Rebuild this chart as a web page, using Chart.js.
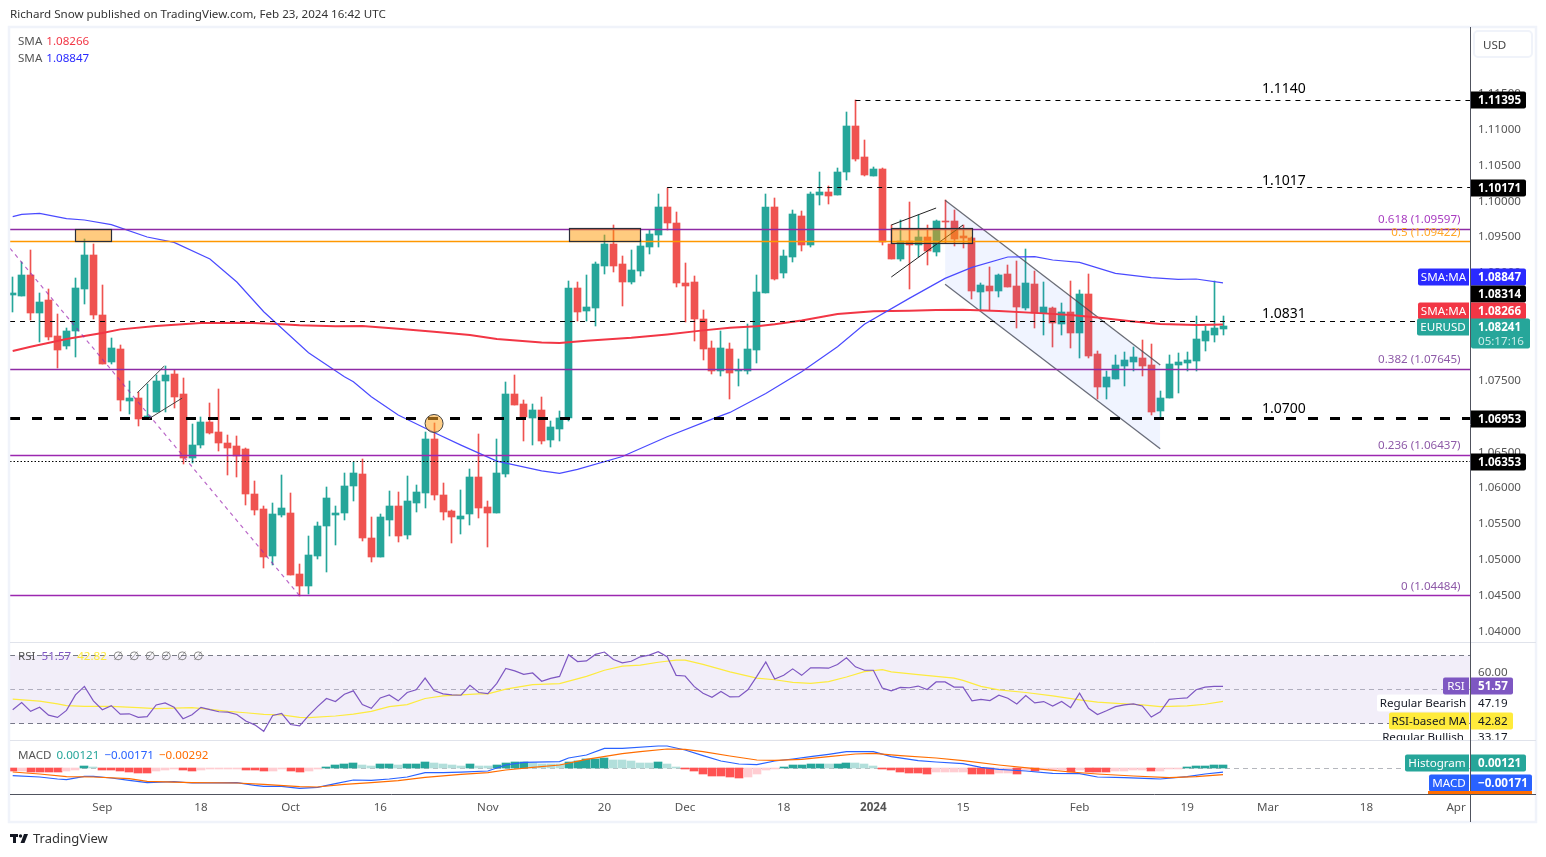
<!doctype html>
<html><head><meta charset="utf-8">
<style>html,body{margin:0;padding:0;background:#fff;overflow:hidden}canvas{display:block}</style>
<script src="https://cdn.jsdelivr.net/npm/chart.js@4"></script>
</head><body><canvas id="c" width="1546" height="857"></canvas>
<script>
const opens=[1.08678,1.08664,1.08957,1.08427,1.08608,1.08106,1.07966,1.08176,1.08761,1.09236,
1.08399,1.07743,1.07924,1.07199,1.07241,1.06948,1.07046,1.07478,1.07576,1.07297,
1.06404,1.06585,1.06906,1.06767,1.06613,1.06571,1.06529,1.05902,1.05692,1.05037,
1.05609,1.05637,1.04786,1.04618,1.05037,1.05455,1.05613,1.05637,1.06013,1.06181,
1.05288,1.05023,1.05539,1.05734,1.0533,1.05776,1.05916,1.06669,1.05888,1.05665,
1.05553,1.05623,1.06139,1.0572,1.05637,1.06181,1.07297,1.07157,1.06962,1.07073,
1.06655,1.06808,1.06962,1.08775,1.08455,1.08496,1.09082,1.09389,1.0911,1.08859,
1.09013,1.09347,1.09515,1.09905,1.09682,1.08845,1.08859,1.08343,1.07938,1.07618,
1.07924,1.07618,1.07618,1.0791,1.08706,1.09905,1.08985,1.09208,1.0978,1.09375,
1.10073,1.10115,1.10073,1.10394,1.11035,1.10603,1.10338,1.10435,1.09389,1.0918,
1.09431,1.09375,1.09487,1.09278,1.0971,1.0971,1.09501,1.09473,1.0872,1.08803,
1.08734,1.08971,1.08803,1.08496,1.08831,1.08427,1.08496,1.08273,1.08441,1.08148,
1.08692,1.07855,1.07394,1.07506,1.07687,1.07743,1.07799,1.07701,1.0706,1.07241,
1.07701,1.07729,1.07757,1.08036,1.0812,1.08203];
const highs=[1.08929,1.09138,1.09305,1.08706,1.08761,1.08413,1.08217,1.08915,1.09459,1.09389,
1.08817,1.08078,1.0798,1.07478,1.07325,1.07436,1.07562,1.07687,1.07632,1.0752,
1.06878,1.06976,1.07171,1.07366,1.06725,1.06711,1.06543,1.06083,1.05734,1.05776,
1.06167,1.05916,1.04925,1.05316,1.05511,1.05999,1.05734,1.06195,1.06348,1.0639,
1.05581,1.05623,1.05944,1.0593,1.06153,1.06027,1.06767,1.06887,1.06055,1.05678,
1.05957,1.0625,1.06739,1.05804,1.06669,1.07464,1.07562,1.07213,1.07157,1.07255,
1.0692,1.0706,1.08873,1.08859,1.08957,1.09138,1.09515,1.09654,1.09222,1.09305,
1.09445,1.09584,1.10087,1.10166,1.09836,1.09124,1.08943,1.08468,1.08036,1.08176,
1.08008,1.07785,1.08273,1.08957,1.10087,1.10031,1.09305,1.09863,1.0985,1.10115,
1.10394,1.10198,1.10449,1.11231,1.11393,1.1084,1.10463,1.10449,1.09654,1.09724,
1.09975,1.09794,1.09654,1.09724,1.09998,1.09863,1.09654,1.09482,1.08845,1.09068,
1.08971,1.09096,1.09152,1.09319,1.09013,1.08859,1.0851,1.08566,1.08873,1.08747,
1.08971,1.07897,1.07618,1.07841,1.07883,1.07952,1.0805,1.07994,1.07339,1.07841,
1.07869,1.07883,1.08385,1.08245,1.08873,1.08385];
const lows=[1.08441,1.08664,1.08329,1.08022,1.0805,1.07659,1.07924,1.07813,1.08552,1.08343,
1.07715,1.07715,1.0706,1.07018,1.0685,1.06948,1.07046,1.07046,1.07101,1.0632,
1.06334,1.06543,1.06739,1.06502,1.06167,1.06139,1.05748,1.05609,1.04869,1.04911,
1.05581,1.04772,1.04479,1.04507,1.04995,1.04814,1.0519,1.05539,1.05804,1.05246,
1.04953,1.05023,1.05316,1.05232,1.05274,1.05651,1.05706,1.05818,1.05539,1.05218,
1.05344,1.05469,1.05567,1.05162,1.05637,1.06139,1.07143,1.06641,1.06585,1.06599,
1.06557,1.06641,1.0692,1.08315,1.08315,1.08245,1.08971,1.08999,1.08524,1.08831,
1.08943,1.0925,1.09347,1.09584,1.08789,1.08301,1.08036,1.07771,1.07576,1.07548,
1.07227,1.07408,1.07576,1.07729,1.08706,1.08887,1.08915,1.09138,1.09292,1.09347,
1.09933,1.09947,1.10073,1.10282,1.10547,1.10338,1.10338,1.09375,1.0918,1.09152,
1.08761,1.09212,1.09096,1.09222,1.09398,1.09361,1.09333,1.08622,1.08468,1.08468,
1.0865,1.08789,1.08217,1.08468,1.08217,1.0812,1.07952,1.0812,1.07938,1.07799,
1.07799,1.07227,1.07227,1.07506,1.07408,1.07618,1.07548,1.07004,1.06962,1.07241,
1.07311,1.07618,1.07618,1.07897,1.08022,1.0812];
const closes=[1.08706,1.08957,1.08427,1.0858,1.08092,1.0791,1.08176,1.08775,1.09236,1.08399,
1.07715,1.07938,1.07213,1.07241,1.06948,1.0699,1.07478,1.07562,1.07255,1.06404,
1.06585,1.06906,1.06753,1.06613,1.06543,1.06432,1.05902,1.05678,1.05023,1.05623,
1.05706,1.04772,1.04618,1.05051,1.05455,1.05846,1.05637,1.06013,1.06195,1.05288,
1.05023,1.05581,1.05734,1.05316,1.05804,1.0593,1.06669,1.05888,1.05651,1.05581,
1.05595,1.06139,1.05706,1.05637,1.06195,1.07297,1.07143,1.06976,1.07073,1.06641,
1.06836,1.06962,1.08775,1.08441,1.0851,1.0911,1.09389,1.09082,1.08859,1.09026,
1.09361,1.09529,1.09905,1.09682,1.08845,1.08803,1.08343,1.07924,1.07618,1.07938,
1.0759,1.07632,1.07924,1.0872,1.09905,1.08901,1.09222,1.09808,1.09375,1.10087,
1.10115,1.10059,1.10394,1.11035,1.10575,1.10352,1.10435,1.09417,1.0918,1.09431,
1.09375,1.09487,1.09292,1.0971,1.09696,1.09459,1.09473,1.08734,1.08817,1.08734,
1.08957,1.08789,1.0851,1.08845,1.08427,1.0851,1.08287,1.08441,1.08148,1.08692,
1.07827,1.07394,1.07534,1.07701,1.07771,1.07813,1.07687,1.07046,1.07241,1.07715,
1.07743,1.07771,1.08064,1.08176,1.08217,1.08241];

const sma50Days=[0,1,3,6,8,11,15,18,22,25,28,33,37,38,40,43,47,50,54,59,61,63,68,73,78,80,84,88,92,95,100,104,107,111,114,116,119,123,127,130,132,135];
const sma50Vals=[1.0977,1.09803,1.09817,1.09743,1.09724,1.09659,1.09487,1.09412,1.0918,1.08859,1.08445,1.07873,1.07538,1.07469,1.07259,1.07004,1.06762,1.06585,1.06362,1.06227,1.0619,1.06246,1.06427,1.06702,1.06948,1.07041,1.07306,1.07608,1.07957,1.08269,1.08631,1.0891,1.09064,1.09208,1.09212,1.09166,1.09133,1.0898,1.0892,1.08896,1.08901,1.08847];
const sma200Days=[0,2,6,10,12,16,21,26,29,32,36,39,43,47,51,54,59,61,64,69,73,77,80,83,85,88,92,96,100,103,106,110,115,118,121,125,128,132,135];
const sma200Vals=[1.07897,1.07957,1.08064,1.08148,1.08199,1.08245,1.08287,1.08292,1.08278,1.08255,1.08241,1.08245,1.08208,1.08166,1.0812,1.08064,1.08017,1.08008,1.08041,1.08083,1.08129,1.08185,1.08222,1.08241,1.08269,1.08324,1.08413,1.0845,1.08459,1.08468,1.08473,1.08455,1.08422,1.08399,1.08366,1.0831,1.08273,1.08259,1.08266];

const rsiVals=[37.9,42.1,36.9,39.3,34.7,33.4,37.5,46.6,51.6,43.1,37.9,40.3,35.3,35.5,33.4,33.8,40.7,41.9,39.3,32.6,
34.9,39.3,37.9,36.7,36.5,35.1,31.2,29.0,25.2,34.5,35.7,29.2,28.4,34.4,39.7,44.5,42.7,47.0,49.0,40.9,
38.7,44.8,46.6,43.1,48.0,49.6,56.5,49.2,47.2,46.6,46.4,52.2,48.0,47.4,53.4,62.1,60.7,58.7,59.5,54.6,
56.3,57.5,70.2,66.2,66.6,70.4,71.8,67.4,65.4,66.4,69.0,70.0,72.0,69.0,58.1,57.7,51.6,47.6,45.2,48.6,
45.4,45.6,49.6,57.5,66.0,55.9,58.1,61.9,58.1,62.5,62.5,62.3,64.5,68.4,63.1,61.1,61.1,50.6,49.0,51.0,
50.8,51.8,49.8,54.2,54.2,51.2,51.2,43.1,44.0,43.3,46.4,44.6,41.3,46.2,41.9,42.7,40.1,42.7,39.1,47.6,
38.7,35.1,37.3,39.7,40.7,41.3,40.1,33.6,36.7,44.0,44.5,44.8,49.6,51.2,51.6,51.57];
const rsiMaDays=[0,3,5,6,8,11,14,16,20,22,24,26,28,30,32,33,36,38,40,42,44,46,48,50,52,53,55,58,61,64,66,68,70,72,74,75,77,80,83,85,87,89,91,93,95,97,98,101,105,106,108,110,113,116,119,121,124,126,128,131,133,135];
const rsiMaVals=[44.1,42.9,41.3,40.3,39.9,39.9,39.1,38.5,39.1,38.1,36.9,36.1,35.1,34.9,33.4,33.2,34.2,35.3,36.9,39.7,40.9,44.5,46.0,46.6,47.2,47.2,50.0,52.6,53.2,57.5,61.1,63.5,64.1,65.8,67.0,67.0,64.5,60.1,56.5,55.5,54.0,53.4,54.4,57.1,60.3,61.5,60.1,58.5,56.5,55.1,51.6,49.6,48.0,46.0,43.7,42.3,41.3,40.7,39.7,40.1,41.1,42.82];

const macdDays=[0,3,5,6,8,9,11,13,15,18,20,25,27,28,30,32,34,36,38,40,42,44,46,48,50,53,55,57,61,62,64,66,68,72,73,75,77,79,81,83,85,87,89,91,93,96,98,101,103,106,108,110,113,116,119,121,124,127,128,131,133,135];
const macdVals=[-.00338,-.00399,-.00492,-.00522,-.00369,-.00369,-.00445,-.00553,-.0066,-.00614,-.00676,-.0066,-.00783,-.00829,-.00829,-.00922,-.00876,-.00707,-.00538,-.00553,-.00492,-.00399,-.002,-.002,-.00171,-.00123,.00154,.00276,.00307,.00476,.00614,.00922,.00922,.01029,.01029,.00845,.00584,.00338,.002,.00169,.00338,.0043,.00538,.00645,.00768,.00768,.00538,.00353,.00292,.00215,.00046,-.00046,-.00123,-.0023,-.00246,-.00399,-.0043,-.00476,-.00492,-.00384,-.00261,-.00171];
const signalDays=[0,3,6,9,13,15,20,25,28,32,34,37,40,43,46,50,53,55,58,61,64,68,70,73,75,77,80,83,85,88,91,94,96,99,103,106,110,114,118,121,125,129,132,135];
const signalVals=[-.00169,-.00261,-.00384,-.00399,-.00476,-.00599,-.0066,-.00676,-.00737,-.00845,-.0086,-.00737,-.0066,-.00568,-.00415,-.00276,-.002,-.00077,.00046,.00154,.00415,.00676,.00768,.00891,.00876,.00768,.00568,.00384,.00369,.00415,.00538,.0066,.00691,.00584,.00476,.00353,.00154,-.00015,-.00169,-.00261,-.00353,-.0043,-.00384,-.00292];
const histVals=[-.00108,-.00092,-.00123,-.0013,-.00139,-.00145,-.00108,-.00046,.00077,.00031,
-.00062,-.00077,-.00108,-.00123,-.00154,-.0016,-.00092,-.00046,-.00031,-.00077,
-.00092,-.00046,-.00015,-.00012,-.0001,-.00008,-.00062,-.00077,-.00108,-.00092,
-.00031,-.00108,-.00115,-.00092,-.00015,.00062,.00108,.00139,.00185,.00123,
.00077,.00139,.00142,.00123,.00139,.00169,.00216,.00185,.00154,.00123,
.00092,.00139,.00092,.00077,.00123,.00185,.00216,.00218,.00185,.00169,
.00154,.00139,.00216,.00262,.00323,.00339,.0037,.00308,.00293,.00246,
.00205,.002,.00215,.00139,.00062,-.00031,-.00092,-.00185,-.00277,-.0028,
-.00323,-.00339,-.00308,-.002,-.00077,-.00031,.00031,.00108,.0011,.00154,
.00156,.00154,.00158,.002,.00185,.00139,.00092,-.00015,-.00077,-.00139,
-.00154,-.00169,-.00185,-.00139,-.00137,-.00135,-.00123,-.00185,-.00187,-.00189,
-.00154,-.0015,-.002,-.00077,-.00108,-.00046,-.00044,-.00042,-.00123,-.00077,
-.00123,-.00125,-.00127,-.00108,-.00092,-.00062,-.0006,-.00108,-.00092,-.00031,
-.00015,.00046,.00092,.00094,.00118,.00121];

const tickDays=[10,21,31,41,53,66,75,86,96,106,119,131,140,151,161];
const tickLabels=['Sep','18','Oct','16','Nov','20','Dec','18','2024','15','Feb','19','Mar','18','Apr'];

const XMIN=-0.301, XMAX=162.55;
const HIST_GAIN=1.3;
const FONT='"Noto Sans"';
const FS='11.6px ';
const GREEN='#26a69a', RED='#ef5350';

const range=n=>Array.from({length:n},(_,i)=>i);
const pts=(d,v)=>d.map((x,i)=>({x,y:v[i]}));
const seg=(x0,y0,x1,y1)=>[{x:x0,y:y0},{x:x1,y:y1}];
const ln=(data,yAxisID,color,width,dash,order,extra)=>Object.assign({type:'line',data,yAxisID,borderColor:color,borderWidth:width,borderDash:dash||[],pointRadius:0,tension:0,order,fill:false,parsing:{xAxisKey:'x',yAxisKey:'y'}},extra||{});
const hl=(from,v,axis,color,width,dash,order,extra)=>ln(seg(from,v,XMAX,v),axis,color,width,dash,order,Object.assign({snapY:true},extra||{}));

const PURPLE='#8e2ba5', P2='#9c27b0', ORANGE='#ff9800';
const days=range(136);
const datasets=[
 hl(XMIN,70,'yRsi','#787b86',1,[5,4],40,{fill:'+1',backgroundColor:'rgba(126,87,194,0.1)'}),
 hl(XMIN,30,'yRsi','#787b86',1,[5,4],40),
 hl(XMIN,50,'yRsi','rgba(120,123,134,.55)',1,[5,4],40),
 hl(XMIN,0,'yMacd','rgba(120,123,134,.55)',1,[5,4],40),
 {type:'bar',label:'wick',snap:'wick',grouped:false,order:30,yAxisID:'yMain',barThickness:1,borderWidth:0,
  backgroundColor:days.map(i=>closes[i]>=opens[i]?GREEN:RED),
  data:days.map(i=>({x:i,y:[lows[i],highs[i]]}))},
 {type:'bar',label:'body',snap:'body',grouped:false,order:29,yAxisID:'yMain',barThickness:7,borderWidth:0,
  backgroundColor:days.map(i=>closes[i]>=opens[i]?GREEN:RED),
  data:days.map(i=>({x:i,y:[opens[i],closes[i]]}))},
 {type:'bar',label:'hist',snap:'body',grouped:false,order:28,yAxisID:'yMacd',barThickness:8,borderWidth:0,
  backgroundColor:days.map(i=>{const v=histVals[i],p=i?histVals[i-1]:0;return v>=0?(v>=p?'#26a69a':'#b2dfdb'):(v<p?'#ff5252':'#ffcdd2');}),
  data:days.map(i=>({x:i,y:histVals[i]*HIST_GAIN}))},
 ln(pts(macdDays,macdVals),'yMacd','#2962ff',1.2,null,10),
 ln(pts(signalDays,signalVals),'yMacd','#ff6d00',1.2,null,9),
 ln(pts(rsiMaDays,rsiMaVals),'yRsi','#fdeb3f',1.2,null,10),
 ln(days.map(i=>({x:i,y:rsiVals[i]})),'yRsi','#7e57c2',1.2,null,9),
 ln(seg(104,1.09999,128,1.07702),'yMain','rgba(70,72,82,.8)',1.3,null,8,{fill:'+1',backgroundColor:'rgba(41,98,255,0.07)'}),
 ln(seg(104,1.08827,128,1.06535),'yMain','rgba(70,72,82,.8)',1.3,null,8),
 ln(pts(sma50Days,sma50Vals),'yMain','#4a4aff',1.2,null,7),
 ln(pts(sma200Days,sma200Vals),'yMain','#f23645',2,null,7),
 hl(94,1.11395,'yMain','#000',1,[5,5],5),
 hl(73,1.10171,'yMain','#000',1,[5,5],5),
 hl(XMIN,1.08314,'yMain','#000',1,[5,5],5),
 hl(XMIN,1.06953,'yMain','#000',3,[10,12],5),
 hl(XMIN,1.06353,'yMain','#000',1,[1.5,2],5),
 hl(XMIN,1.09597,'yMain',PURPLE,1.5,null,4),
 hl(XMIN,1.09422,'yMain',ORANGE,1.5,null,4),
 hl(XMIN,1.07645,'yMain',PURPLE,1.5,null,4),
 hl(XMIN,1.06437,'yMain',P2,1.5,null,4),
 hl(XMIN,1.04484,'yMain',P2,1.5,null,4),
 ln(seg(XMIN,1.09329,32,1.04484),'yMain','rgba(156,39,176,.7)',1.2,[4,4],3),
 ln(seg(13.9,1.07315,16.9,1.07687),'yMain','#444',1,null,3),
 ln(seg(15.2,1.06953,18.9,1.07241),'yMain','#444',1,null,3),
 ln(seg(98,1.09654,103,1.09891),'yMain','#222',1,null,3),
 ln(seg(98,1.08929,106,1.09654),'yMain','#222',1,null,3),
 {type:'line',showLine:false,yAxisID:'yMain',order:2,data:[{x:47,y:1.06887}],pointRadius:9,pointBorderWidth:1,pointBorderColor:'#444',pointBackgroundColor:'rgba(255,167,38,.55)'}
];

const zoneBoxes=[{from:7,to:11,top:1.09597,bottom:1.09436},{from:62,to:70,top:1.09608,bottom:1.09436},{from:98,to:107,top:1.09608,bottom:1.09408}];
const levelTexts=[{text:'1.1140',value:1.11395,dy:-12.5},{text:'1.1017',value:1.10171,dy:-8},{text:'1.0831',value:1.08314,dy:-8.5},{text:'1.0700',value:1.06953,dy:-10.5}];
const fibTexts=[{text:'0.618 (1.09597)',value:1.09597,dy:-10,color:'#a83cc0'},{text:'0.5 (1.09422)',value:1.09422,dy:-10,color:'#ffa726'},{text:'0.382 (1.07645)',value:1.07645,dy:-10,color:'#8e5aa8'},{text:'0.236 (1.06437)',value:1.06437,dy:-11,color:'#8e5aa8'},{text:'0 (1.04484)',value:1.04484,dy:-10,color:'#8e5aa8'}];
const priceTags=[
 {text:'1.11395',value:1.11395,dy:0,bg:'#000',fg:'#fff',r:1526},
 {text:'1.10171',value:1.10171,dy:0,bg:'#000',fg:'#fff',r:1526},
 {label:'SMA:MA',l:1418,text:'1.08847',value:1.08847,dy:-6,bg:'#2a2aff',fg:'#fff',r:1526},
 {text:'1.08314',value:1.08314,dy:-27,bg:'#000',fg:'#fff',r:1526},
 {label:'SMA:MA',l:1418,text:'1.08266',value:1.08266,dy:-14,bg:'#f23645',fg:'#fff',r:1526},
 {text:'1.06953',value:1.06953,dy:0,bg:'#000',fg:'#fff',r:1526},
 {text:'1.06353',value:1.06353,dy:0,bg:'#000',fg:'#fff',r:1526}
];
const rsiTags=[
 {label:'Regular Bearish',l:1377,text:'47.19',value:47.19,dy:9,bg:'#fff',fg:'#131722',r:1513,thin:true},
 {label:'Regular Bullish',l:1377,text:'33.17',value:33.17,dy:19.5,bg:'#fff',fg:'#131722',r:1513,thin:true},
 {label:'RSI',l:1443,text:'51.57',value:51.57,dy:0,bg:'#7e57c2',fg:'#fff',r:1513},
 {label:'RSI-based MA',l:1389,text:'42.82',value:42.82,dy:19.5,bg:'#ffeb3b',fg:'#131722',r:1513,thin:true}
];
const macdTags=[
 {label:'Histogram',l:1405,text:'0.00121',value:0.00121,dy:-2.7,bg:'#26a69a',fg:'#fff',r:1526},
 {label:'MACD',l:1429,text:'\u22120.00171',value:-0.00171,dy:11,bg:'#2962ff',fg:'#fff',r:1532}
];

const overlay={id:'overlay',
 afterDatasetsUpdate(chart){
  chart.data.datasets.forEach((d,i)=>{
   const els=chart.getDatasetMeta(i).data;
   if(d.snapY) els.forEach(el=>{el.y=Math.floor(el.y)+.5;});
   if(!d.snap) return;
   els.forEach(el=>{
    el.x=Math.round(el.x-el.width/2)+el.width/2;
    el.y=Math.round(el.y); el.base=Math.round(el.base);
    if(el.y===el.base) el.base=el.y+1;
   });
  });
 },
 afterDatasetsDraw(chart){
  const c=chart.ctx,x=chart.scales.x,y=chart.scales.yMain;
  c.save();
  zoneBoxes.forEach(b=>{
   const l=Math.round(x.getPixelForValue(b.from))+.5,r=Math.round(x.getPixelForValue(b.to))+.5,t=Math.round(y.getPixelForValue(b.top))+.5,bt=Math.round(y.getPixelForValue(b.bottom))+.5;
   c.fillStyle='rgba(255,152,0,.5)';c.fillRect(l,t,r-l,bt-t);
   c.strokeStyle='#2a2e39';c.lineWidth=1.2;c.strokeRect(l,t,r-l,bt-t);
  });
  c.restore();
 },
 afterDraw(chart){
  const c=chart.ctx,x=chart.scales.x,y=chart.scales.yMain,R=chart.scales.yRsi,M=chart.scales.yMacd;
  const txt=(s,px,py,font,col,al)=>{c.font=font;c.fillStyle=col;c.textAlign=al||'left';c.textBaseline='middle';c.fillText(s,px,py+1);};
  c.save();
  const L=10,AX=1470,RT=1536,T=27,B=822;
  c.strokeStyle='#f0f3fa';c.lineWidth=2.5;c.strokeRect(L-1,T,RT-L+1,B-T);
  c.strokeStyle='#e0e3eb';c.lineWidth=1;
  c.beginPath();c.moveTo(L,642.5);c.lineTo(RT,642.5);c.moveTo(L,740.5);c.lineTo(RT,740.5);c.stroke();
  c.strokeStyle='#50535e';c.lineWidth=1;
  c.beginPath();c.moveTo(AX+.5,T);c.lineTo(AX+.5,B);c.moveTo(L,794.5);c.lineTo(RT,794.5);c.stroke();
  txt('Richard Snow published on TradingView.com, Feb 23, 2024 16:42 UTC',10,13.5,FS+FONT,'#333');
  c.strokeStyle='#f0f3fa';c.lineWidth=2;c.beginPath();c.roundRect(1474,31,58,26,4);c.stroke();
  txt('USD',1483,44.5,FS+FONT,'#444');
  const legend=(parts,px,py,gap)=>{parts.forEach(([s,col])=>{c.font=FS+FONT;c.fillStyle=col;c.textAlign='left';c.textBaseline='middle';c.fillText(s,px,py);px+=c.measureText(s).width+gap;});};
  legend([['SMA','#555'],['1.08266','#f23645']],18,42,4);
  legend([['SMA','#555'],['1.08847','#2a2aff']],18,59,4);
  legend([['RSI','#555'],['51.57','#7e57c2'],['42.82','#fdeb3f'],['\u2205','#777'],['\u2205','#777'],['\u2205','#777'],['\u2205','#777'],['\u2205','#777'],['\u2205','#777']],18,657,6);
  legend([['MACD','#555'],['0.00121','#26a69a'],['\u22120.00171','#2962ff'],['\u22120.00292','#ff6d00']],18,755.5,5);
  levelTexts.forEach(t=>txt(t.text,x.getPixelForValue(141.8),y.getPixelForValue(t.value)+t.dy,'14px '+FONT,'#000','center'));
  fibTexts.forEach(t=>txt(t.text,x.getPixelForValue(161.5),y.getPixelForValue(t.value)+t.dy,FS+FONT,t.color,'right'));
  const tag=(t,scale)=>{
   const cy=Math.round(scale.getPixelForValue(t.value)+t.dy);
   if(t.label){c.fillStyle=t.bg;c.beginPath();c.roundRect(t.l,cy-8.5,AX-t.l-1,17,[2,0,0,2]);c.fill();
    txt(t.label,(t.l+AX-1)/2,cy,FS+FONT,t.fg,'center');}
   c.fillStyle=t.bg;c.beginPath();c.roundRect(AX+1,cy-8.5,t.r-AX-1,17,[0,2,2,0]);c.fill();
   txt(t.text,1478,cy,(t.thin?'':'bold ')+FS+FONT,t.fg);
  };
  priceTags.forEach(t=>tag(t,y));
  const lastY=Math.round(y.getPixelForValue(closes[135])+1);
  c.fillStyle=GREEN;c.beginPath();c.roundRect(1417,lastY-8.5,52,17,[2,0,0,2]);c.fill();
  txt('EURUSD',1443,lastY,FS+FONT,'#fff','center');
  c.fillStyle=GREEN;c.beginPath();c.roundRect(AX+1,lastY-8.5,59,30,[0,2,2,2]);c.fill();
  txt('1.08241',1478,lastY,'bold '+FS+FONT,'#fff');
  txt('05:17:16',1478,lastY+14,FS+FONT,'#c9ece8');
  c.save();c.beginPath();c.rect(0,643,1546,97);c.clip();
  rsiTags.forEach(t=>tag(t,R));
  c.restore();
  macdTags.forEach(t=>tag(t,M));
  c.fillStyle='#ff6d00';c.fillRect(1428,791,104,3);
  c.fillStyle='#131722';
  c.fillRect(10,834,8,3);c.fillRect(13,834,3,9);
  c.beginPath();c.arc(20.5,836,1.7,0,7);c.fill();
  c.beginPath();c.moveTo(24,834);c.lineTo(28,834);c.lineTo(24.5,843);c.lineTo(20.5,843);c.fill();
  txt('TradingView',33,838.5,'13px '+FONT,'#333');
  c.restore();
 }
};

new Chart(document.getElementById('c'),{
 type:'bar',
 data:{datasets},
 plugins:[overlay],
 options:{
  responsive:false,animation:false,devicePixelRatio:1,
  layout:{padding:{left:10,top:28,right:10,bottom:35}},
  plugins:{legend:{display:false},tooltip:{enabled:false}},
  scales:{
   x:{type:'linear',min:XMIN,max:XMAX,offset:false,grid:{display:false,drawTicks:false},border:{display:false},
    afterBuildTicks:s=>{s.ticks=tickDays.map(v=>({value:v}));},
    afterFit:s=>{s.height=27;},
    ticks:{autoSkip:false,maxRotation:0,color:'#555',padding:6,
     font:ctx=>({family:'Noto Sans',size:11.6,weight:tickDays[ctx.index]===96?'bold':'normal'}),
     callback:v=>tickLabels[tickDays.indexOf(v)]}},
   yMain:{axis:'y',type:'linear',position:'right',stack:'p',stackWeight:614,weight:1,min:1.0384,max:1.12401,grid:{display:false,drawTicks:false},border:{display:false},
    afterFit:s=>{s.width=66;},
    ticks:{stepSize:0.005,includeBounds:false,color:'#555',padding:8,labelOffset:1,font:{family:'Noto Sans',size:11.6},callback:v=>v>1.116?null:v.toFixed(5)}},
   yRsi:{axis:'y',type:'linear',position:'right',stack:'p',stackWeight:99,weight:2,min:19.5,max:77.7,grid:{display:false,drawTicks:false},border:{display:false},
    afterFit:s=>{s.width=66;},
    afterBuildTicks:s=>{s.ticks=[{value:60}];},
    ticks:{color:'#555',padding:8,labelOffset:1,font:{family:'Noto Sans',size:11.6},callback:v=>v.toFixed(2)}},
   yMacd:{axis:'y',type:'linear',position:'right',stack:'p',stackWeight:54,weight:3,min:-0.0123,max:0.0126,grid:{display:false,drawTicks:false},border:{display:false},
    afterFit:s=>{s.width=66;},
    ticks:{display:false}}
  }
 }
});
</script></body></html>
